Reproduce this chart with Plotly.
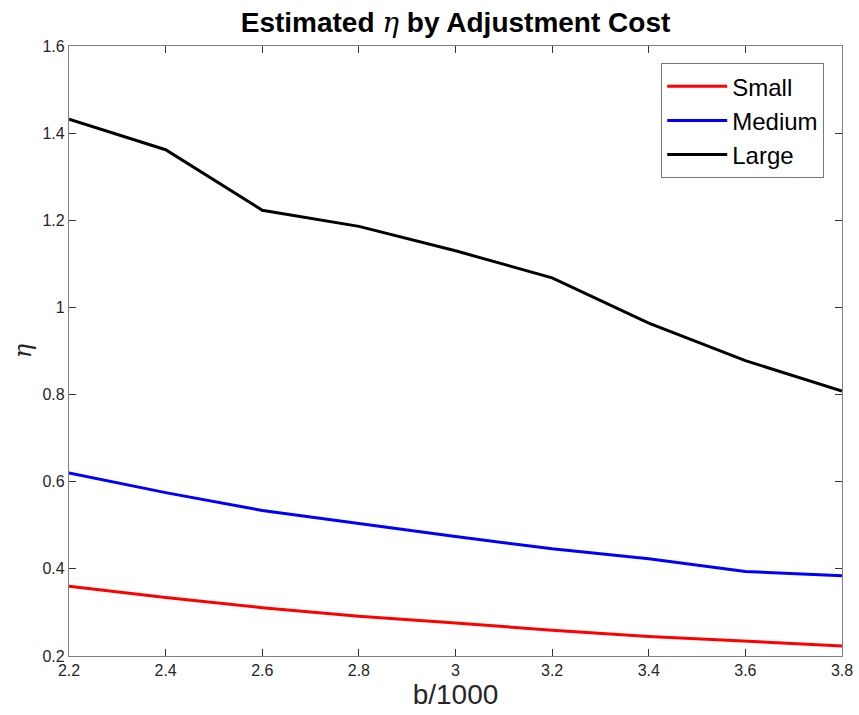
import plotly.graph_objects as go

# data
b_cost = [2.2, 2.4, 2.6, 2.8, 3.0, 3.2, 3.4, 3.6, 3.8]
eta_small = [0.360, 0.334, 0.311, 0.291, 0.276, 0.259, 0.245, 0.234, 0.223]
eta_medium = [0.620, 0.575, 0.534, 0.504, 0.474, 0.446, 0.423, 0.394, 0.384]
eta_large = [1.432, 1.362, 1.223, 1.186, 1.130, 1.068, 0.964, 0.878, 0.808]

series_names = ['Small', 'Medium', 'Large']
series_colors = ['#ff0000', '#0000ff', '#000000']

fig = go.Figure()
for name, vals, col in zip(series_names, [eta_small, eta_medium, eta_large], series_colors):
    fig.add_trace(go.Scatter(x=b_cost, y=vals, mode='lines', name=name,
                             line=dict(color=col, width=3)))

eta = "<span style='font-family:DejaVu Serif;font-weight:normal'><i>η</i></span>"

axis_style = dict(
    showline=True, linecolor='#808080', linewidth=1.2, mirror='allticks',
    ticks='inside', ticklen=7, tickcolor='#333333', tickwidth=1,
    showgrid=False, zeroline=False, automargin=False,
    tickfont=dict(family='Liberation Sans', size=16, color='#262626'),
)

fig.update_layout(
    width=859, height=715,
    plot_bgcolor='white', paper_bgcolor='white',
    margin=dict(l=69, r=17, t=46, b=59),
    title=dict(text='<b>Estimated ' + eta + ' by Adjustment Cost</b>',
               x=0.5, xref='paper', y=1 - 22 / 715, yref='container', yanchor='middle',
               font=dict(family='Liberation Sans', size=28, color='black')),
    xaxis=dict(range=[2.2, 3.8], dtick=0.2, tick0=2.2,
               title=dict(text='b/1000', standoff=4,
                          font=dict(family='Liberation Sans', size=28, color='#262626')),
               **axis_style),
    yaxis=dict(range=[0.2, 1.6], dtick=0.2, tick0=0.2,
               title=dict(text='<i>η</i>', standoff=4,
                          font=dict(family='DejaVu Serif', size=24, color='#262626')),
               **axis_style),
    legend=dict(x=0.977, y=0.972, xanchor='right', yanchor='top',
                bgcolor='white', bordercolor='#777777', borderwidth=1,
                font=dict(family='Liberation Sans', size=24, color='black'),
                tracegroupgap=0, itemwidth=60),
    showlegend=True,
)

# drop the browser's default page margin so the figure sits at the top-left
fig.write_html("out.html", config={'displayModeBar': False},
               post_script="document.body.style.margin='0';")
